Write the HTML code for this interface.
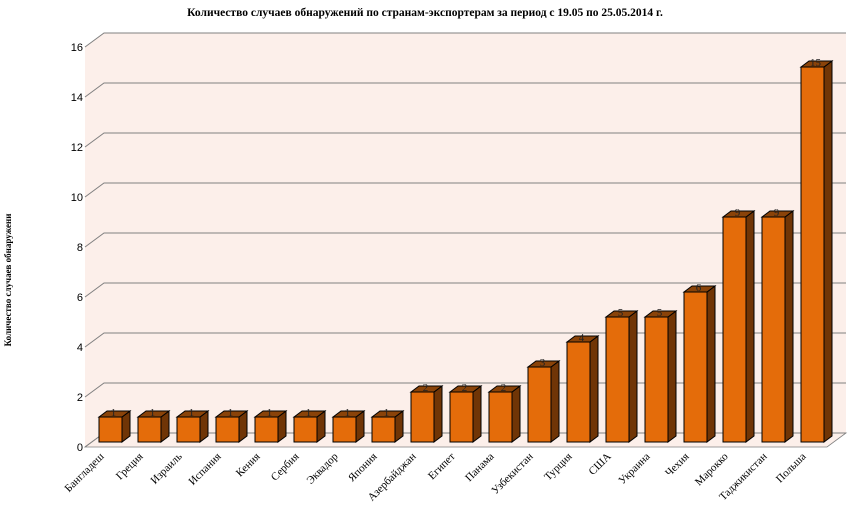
<!DOCTYPE html>
<html><head><meta charset="utf-8">
<style>
body{margin:0;background:#fff;}
svg{display:block;font-family:"Liberation Serif",serif;}
</style></head>
<body>
<svg width="851" height="528" viewBox="0 0 851 528" xmlns="http://www.w3.org/2000/svg">
<text x="425" y="16" text-anchor="middle" font-size="11.5" font-weight="bold">Количество случаев обнаружений по странам-экспортерам за период с 19.05 по 25.05.2014 г.</text>
<text transform="translate(11,280) rotate(-90)" text-anchor="middle" font-size="9" font-weight="bold">Количество случаев обнаружени</text>
<g id="plot"></g>
</svg>
<script>
const categories=["Бангладеш","Греция","Израиль","Испания","Кения","Сербия","Эквадор","Япония","Азербайджан","Египет","Панама","Узбекистан","Турция","США","Украина","Чехия","Марокко","Таджикистан","Польша"];
const values=[1,1,1,1,1,1,1,1,2,2,2,3,4,5,5,6,9,9,15];
const yTicks=[0,2,4,6,8,10,12,14,16];

const NS="http://www.w3.org/2000/svg";
const g=document.getElementById('plot');
function mk(tag,attrs,parent){const e=document.createElementNS(NS,tag);for(const k in attrs)e.setAttribute(k,attrs[k]);(parent||g).appendChild(e);return e;}
const frontX0=85,frontX1=827,backDx=19,backDy=-14,y0=447,unit=25;
const yFront=v=>y0-v*unit;
const barY=v=>442-v*unit;
const xC=i=>110.5+i*39;
// back wall
mk('rect',{x:frontX0+backDx,y:yFront(16)+backDy,width:frontX1-frontX0,height:16*unit,fill:'#fcefea'});
// left wall
mk('polygon',{points:`${frontX0},${yFront(16)} ${frontX0+backDx},${yFront(16)+backDy} ${frontX0+backDx},${y0+backDy} ${frontX0},${y0}`,fill:'#fcefea'});
// floor
mk('polygon',{points:`${frontX0},${y0} ${frontX0+backDx},${y0+backDy} ${frontX1+backDx},${y0+backDy} ${frontX1},${y0}`,fill:'#fcefea',stroke:'#808080','stroke-width':0.8});
yTicks.forEach(t=>{
  const y=yFront(t);
  const l=mk('polyline',{points:`${frontX0},${y} ${frontX0+backDx},${y+backDy} ${frontX1+backDx},${y+backDy}`,fill:'none',stroke:'#808080','stroke-width':1});
  
  
  const tx=mk('text',{x:frontX0-2,y:y+4,'text-anchor':'end','font-size':'11','font-family':'Liberation Sans, sans-serif',fill:'#000'});
  tx.textContent=t;
  
  
});
const bw=23,dx=8,dy=6;
values.forEach((v,i)=>{
  const x=xC(i)-bw/2, yt=barY(v), yb=barY(0);
  const bg=mk('g',{});
  
  
  mk('polygon',{points:`${x+bw},${yt} ${x+bw+dx},${yt-dy} ${x+bw+dx},${yb-dy} ${x+bw},${yb}`,fill:'#703506',stroke:'#000','stroke-width':1},bg);
  mk('polygon',{points:`${x},${yt} ${x+dx},${yt-dy} ${x+bw+dx},${yt-dy} ${x+bw},${yt}`,fill:'#8a4309',stroke:'#000','stroke-width':1},bg);
  mk('rect',{x:x,y:yt,width:bw,height:yb-yt,fill:'#e46c0a',stroke:'#000','stroke-width':1},bg);
  const vl=mk('text',{x:xC(i)+3,y:yt-1,'text-anchor':'middle','font-size':'11',fill:'#222'});
  vl.textContent=v;
  
  
  const cl=mk('text',{transform:`translate(${xC(i)-6},${457}) rotate(-45)`,'text-anchor':'end','font-size':'11',fill:'#000'});
  cl.textContent=categories[i];
  
  
});
</script>
</body></html>
